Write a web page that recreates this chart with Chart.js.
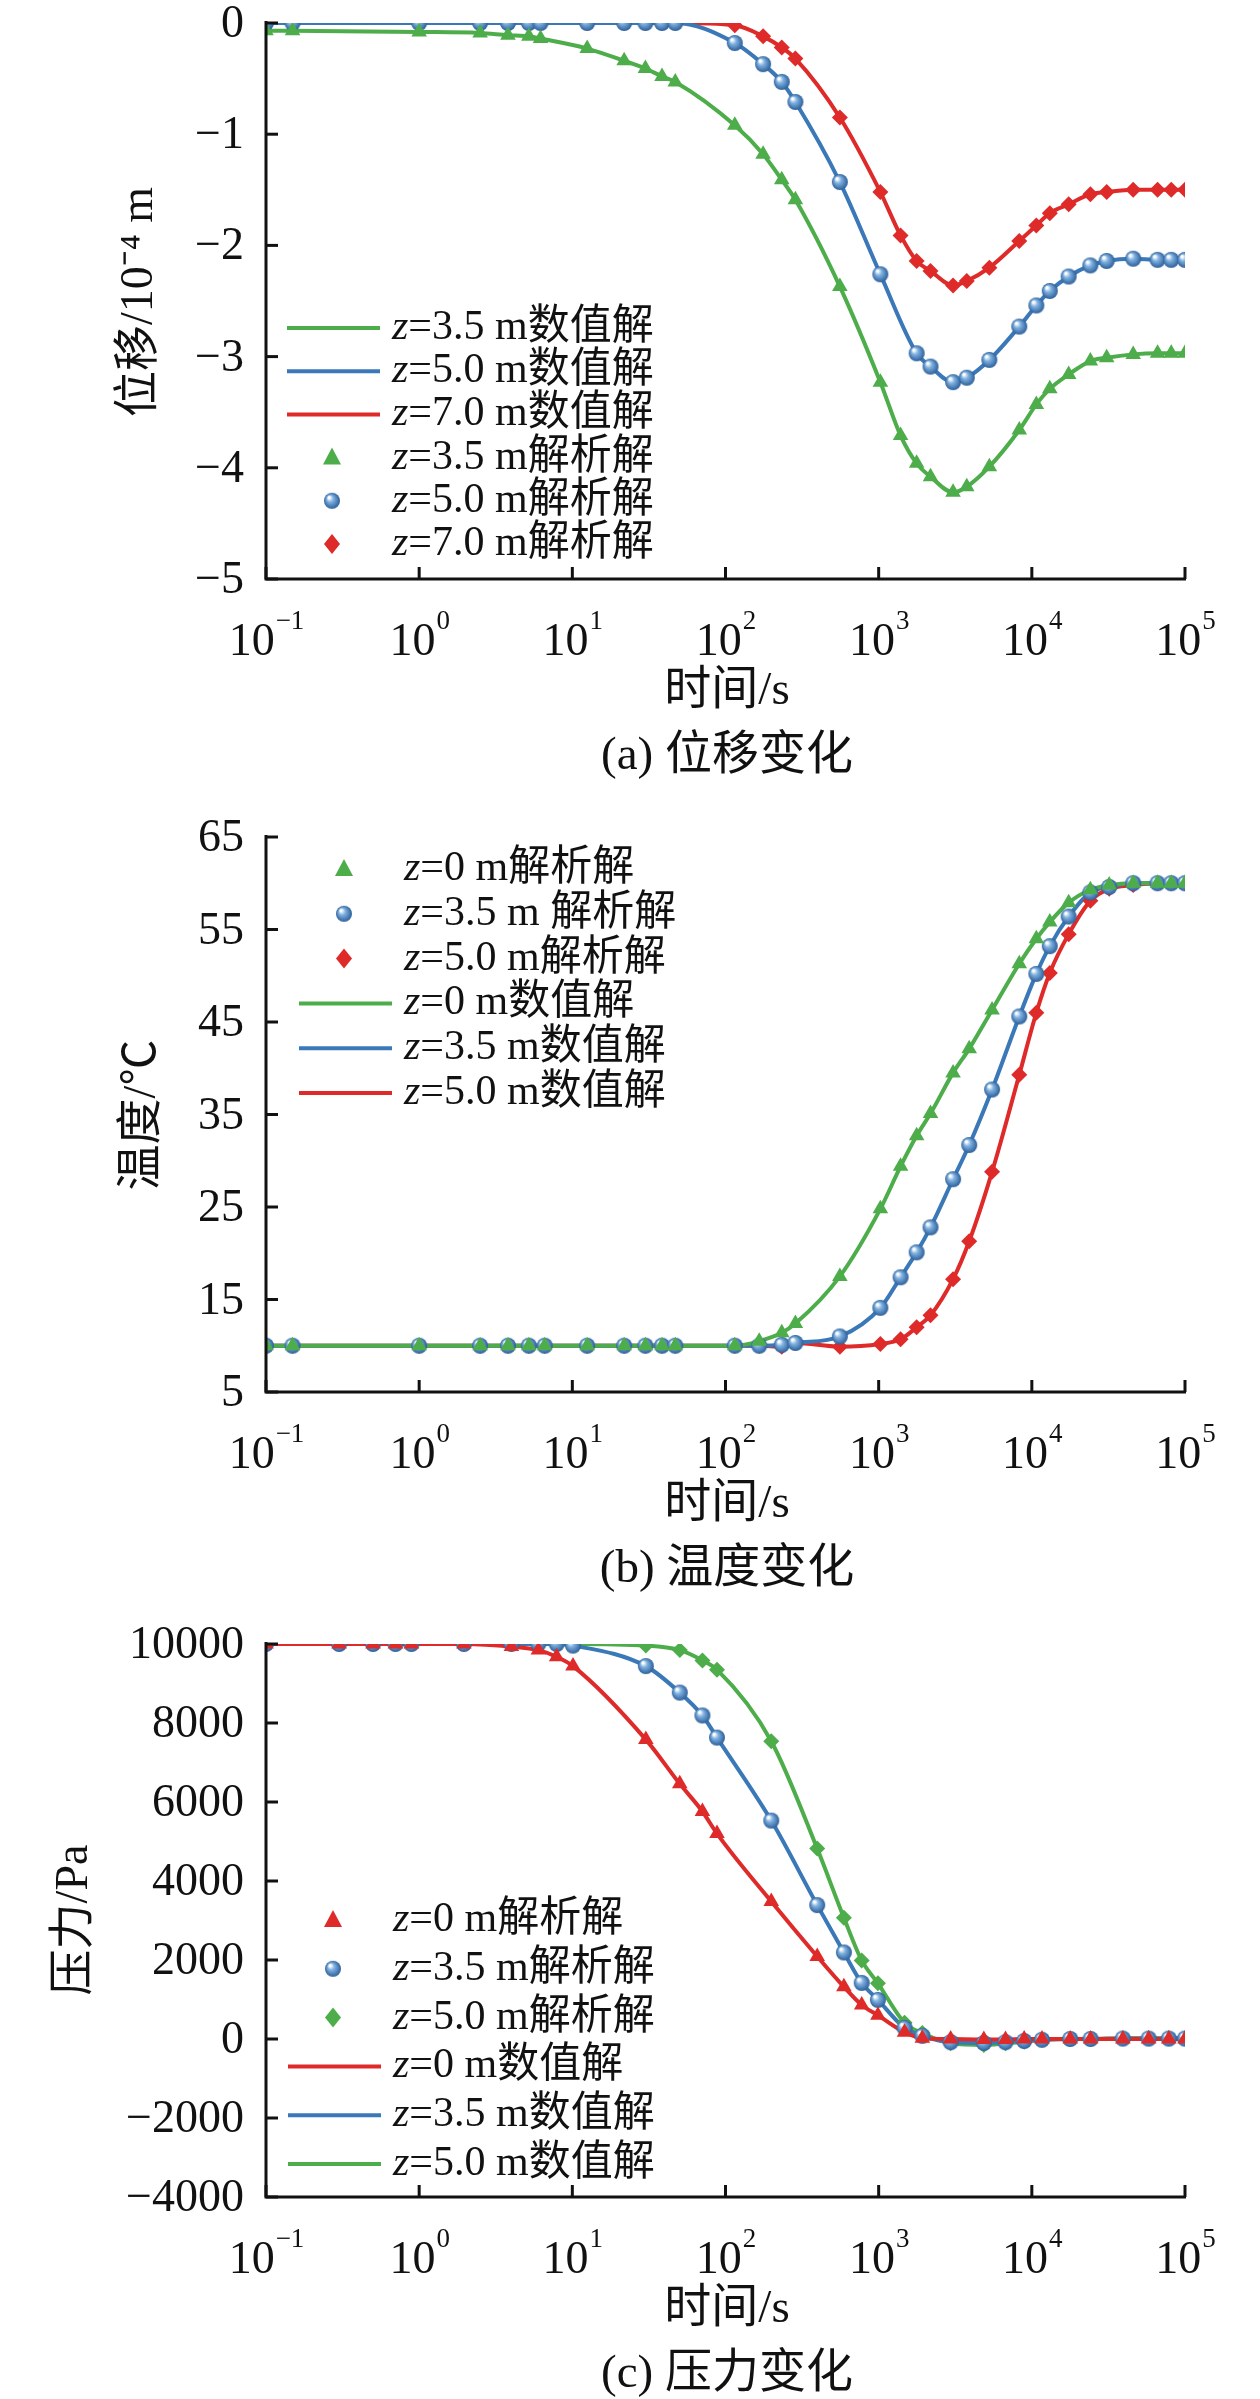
<!DOCTYPE html>
<html>
<head>
<meta charset="utf-8">
<script src="https://cdn.jsdelivr.net/npm/chart.js@4.4.0/dist/chart.umd.min.js"></script>
<style>
  body { margin: 0; background: #fff; }
  .panel { position: absolute; left: 0; }
</style>
</head>
<body>
<canvas id="chartA" class="panel" style="top:0" width="1260" height="800"></canvas>
<canvas id="chartB" class="panel" style="top:800px" width="1260" height="800"></canvas>
<canvas id="chartC" class="panel" style="top:1600px" width="1260" height="799"></canvas>
<script>
// --- Data (a) displacement, 1e-4 m ---
const timeA = [0.1,0.149,1.0,2.5,3.8,5.2,6.2,12.5,21.8,30,38.5,47,115,176,233,286,558,1026,1390,1770,2180,3060,3760,5280,8280,10700,13100,17400,24100,30800,45900,66200,81300,100000];
const timeA5 = [0.1,0.149,1.0,2.5,3.8,5.2,6.2,12.5,21.8,30,38.5,47,115,176,233,286,558,1026,1770,2180,3060,3760,5280,8280,10700,13100,17400,24100,30800,45900,66200,81300,100000];
const dispZ35 = [-0.07,-0.07,-0.08,-0.09,-0.11,-0.12,-0.14,-0.23,-0.34,-0.41,-0.48,-0.53,-0.92,-1.18,-1.41,-1.59,-2.37,-3.23,-3.71,-3.96,-4.08,-4.22,-4.17,-3.99,-3.66,-3.43,-3.29,-3.16,-3.04,-3.01,-2.98,-2.97,-2.97,-2.97];
const dispZ50 = [0,0,0,0,0,0,0,0,0,0,0,0,-0.18,-0.37,-0.53,-0.71,-1.43,-2.26,-2.97,-3.09,-3.23,-3.19,-3.03,-2.73,-2.54,-2.41,-2.28,-2.18,-2.14,-2.12,-2.13,-2.13,-2.13];
const dispZ70 = [0,0,0,0,0,0,0,0,0,0,0,0,-0.02,-0.12,-0.22,-0.32,-0.85,-1.52,-1.91,-2.14,-2.23,-2.36,-2.32,-2.2,-1.96,-1.82,-1.71,-1.63,-1.54,-1.52,-1.5,-1.5,-1.5,-1.5];
const dispTicks = [0,-1,-2,-3,-4,-5];

// --- Data (b) temperature, °C ---
const timeB = [0.1,0.149,1.0,2.5,3.8,5.2,6.6,12.5,21.8,30,38.5,47,115,166,233,286,558,1026,1390,1770,2180,3060,3900,5500,8280,10700,13100,17400,24100,32000,45900,66200,81300,100000];
const tempZ0 = [10,10,10,10,10,10,10,10,10,10,10,10,10,10.5,11.4,12.4,17.5,24.8,29.4,32.7,35.1,39.5,42.1,46.3,51.3,54.0,55.8,57.9,59.3,59.8,60,60,60,60];
const tempZ35 = [10,10,10,10,10,10,10,10,10,10,10,10,10,10,10.1,10.3,11.0,14.1,17.4,20.1,22.8,28.0,31.7,37.7,45.6,50.2,53.2,56.4,59.0,59.6,60,60,60,60];
const tempZ50 = [10,10,10,10,10,10,10,10,10,10,10,10,10,10,9.9,10.3,9.9,10.2,10.7,12.0,13.3,17.2,21.3,28.8,39.3,46.0,50.3,54.5,58.1,59.4,59.8,60,60,60];
const tempTicks = [5,15,25,35,45,55,65];

// --- Data (c) pressure, Pa ---
const timeC = [0.1,0.3,0.5,0.7,0.89,1.96,4.0,6.0,7.9,10.1,30.2,50.3,70.7,88,199,397,593,775,989,1476,1928,2950,4860,6730,8910,11650,17800,24200,39300,57900,78400,100000];
const presZ0 = [10000,10000,10000,10000,10000,10000,9935,9845,9675,9440,7580,6460,5760,5200,3480,2090,1320,860,600,170,20,0,-10,-10,0,0,0,0,0,0,0,0];
const presZ35 = [10000,10000,10000,10000,10000,10000,10000,10000,10000,9960,9440,8770,8190,7630,5530,3390,2190,1420,990,280,80,-80,-100,-80,-50,-20,0,0,10,10,10,10];
const presZ50 = [10000,10000,10000,10000,10000,10000,10000,10000,10000,10000,9960,9845,9585,9350,7540,4820,3070,1990,1410,410,150,-110,-150,-110,-70,-20,0,0,20,20,20,20];
const presTicks = [-4000,-2000,0,2000,4000,6000,8000,10000];

const timeDecades = [-1,0,1,2,3,4,5];

const GREEN = '#4dad4a';
const BLUE = '#3a78b8';
const RED = '#df2a2a';
const SERIF = '"Liberation Serif", "Noto Sans CJK SC", serif';

// shaded ball marker for the blue series
function makeBall(r) {
    const c = document.createElement('canvas');
    c.width = c.height = r * 2 + 2;
    const g = c.getContext('2d');
    const grad = g.createRadialGradient(r * 0.75, r * 0.7, 1, r + 1, r + 1, r);
    grad.addColorStop(0, '#ffffff');
    grad.addColorStop(0.35, '#7fb1e0');
    grad.addColorStop(1, '#2c5f9a');
    g.fillStyle = grad;
    g.beginPath();
    g.arc(r + 1, r + 1, r, 0, Math.PI * 2);
    g.fill();
    return c;
}
const ball = makeBall(8);

function pts(times, vals) {
    return times.map((t, i) => ({ x: t, y: vals[i] }));
}

function lineSet(times, vals, color, tension) {
    return { type: 'line', data: pts(times, vals), borderColor: color, borderWidth: 4,
             pointRadius: 0, tension: tension, cubicInterpolationMode: 'monotone', fill: false, order: 2 };
}

function markSet(times, vals, color, style) {
    const ds = { type: 'scatter', data: pts(times, vals), showLine: false, order: 1,
                 pointBackgroundColor: color, pointBorderWidth: 0, pointBorderColor: color,
                 pointStyle: style, pointRadius: style === 'rectRot' ? 8 : 9 };
    if (style === 'ball') { ds.pointStyle = ball; }
    return ds;
}

function drawMarker(ctx, kind, color, x, y) {
    ctx.save();
    ctx.fillStyle = color;
    if (kind === 'triangle') {
        ctx.beginPath();
        ctx.moveTo(x, y - 10); ctx.lineTo(x + 9, y + 7); ctx.lineTo(x - 9, y + 7);
        ctx.closePath(); ctx.fill();
    } else if (kind === 'rectRot') {
        ctx.beginPath();
        ctx.moveTo(x, y - 10); ctx.lineTo(x + 8, y); ctx.lineTo(x, y + 10); ctx.lineTo(x - 8, y);
        ctx.closePath(); ctx.fill();
    } else {
        ctx.drawImage(ball, x - 9, y - 9);
    }
    ctx.restore();
}

// axes, inward ticks, labels, legend and captions
const decorPlugin = {
    id: 'decor',
    afterDraw(chart, args, opts) {
        const ctx = chart.ctx;
        const a = chart.chartArea;
        const xs = chart.scales.x, ys = chart.scales.y;
        ctx.save();
        ctx.strokeStyle = '#111';
        ctx.fillStyle = '#111';
        ctx.lineWidth = 3;
        ctx.beginPath();
        ctx.moveTo(a.left, a.top - 2); ctx.lineTo(a.left, a.bottom); ctx.lineTo(a.right + 1, a.bottom);
        ctx.stroke();

        ctx.font = '46px ' + SERIF;
        ctx.textAlign = 'right';
        ctx.textBaseline = 'middle';
        opts.yTicks.forEach(v => {
            const py = ys.getPixelForValue(v);
            ctx.beginPath(); ctx.moveTo(a.left, py); ctx.lineTo(a.left + 12, py); ctx.stroke();
            ctx.fillText(String(v).replace('-', '\u2212'), a.left - 22, py + 2);
        });

        timeDecades.forEach(d => {
            const px = xs.getPixelForValue(Math.pow(10, d));
            ctx.beginPath(); ctx.moveTo(px, a.bottom); ctx.lineTo(px, a.bottom - 12); ctx.stroke();
            ctx.textAlign = 'left';
            ctx.textBaseline = 'alphabetic';
            const exp = String(d).replace('-', '\u2212');
            ctx.font = '27px ' + SERIF;
            const we = ctx.measureText(exp).width;
            ctx.font = '46px ' + SERIF;
            const wb = ctx.measureText('10').width;
            const x0 = px - (wb + we) / 2;
            ctx.fillText('10', x0, a.bottom + 76);
            ctx.font = '27px ' + SERIF;
            ctx.fillText(exp, x0 + wb + 1, a.bottom + 50);
        });

        ctx.font = '47px ' + SERIF;
        ctx.textAlign = 'center';
        ctx.textBaseline = 'middle';
        ctx.fillText('时间/s', 727, a.bottom + 113);
        ctx.fillText(opts.caption, 727, a.bottom + 178);

        ctx.save();
        ctx.translate(opts.yTitleX, opts.yTitleY);
        ctx.rotate(-Math.PI / 2);
        ctx.font = '46px ' + SERIF;
        ctx.fillText(opts.yTitle, 0, 0);
        ctx.restore();

        // legend
        opts.legend.forEach((e, i) => {
            const y = opts.legTop + i * opts.legStep;
            if (e.kind === 'line') {
                ctx.strokeStyle = e.color; ctx.lineWidth = 4;
                ctx.beginPath(); ctx.moveTo(opts.legX, y); ctx.lineTo(opts.legX + 93, y); ctx.stroke();
            } else {
                drawMarker(ctx, e.kind, e.color, opts.legX + 45, y);
            }
            ctx.fillStyle = '#111';
            ctx.textAlign = 'left';
            ctx.font = 'italic 42px ' + SERIF;
            ctx.fillText('z', opts.legX + 105, y);
            const wz = ctx.measureText('z').width;
            ctx.font = '42px ' + SERIF;
            ctx.fillText(e.text, opts.legX + 105 + wz, y);
        });
        ctx.restore();
    }
};

function makeChart(id, datasets, yMin, yMax, area, decor) {
    const el = document.getElementById(id);
    return new Chart(el.getContext('2d'), {
        data: { datasets: datasets },
        options: {
            responsive: false,
            animation: false,
            devicePixelRatio: 1,
            layout: { padding: { left: 0, right: 1260 - 1185, top: area.top, bottom: el.height - area.bottom - 100 } },
            scales: {
                x: { type: 'logarithmic', min: 0.1, max: 100000,
                     grid: { display: false }, border: { display: false }, ticks: { display: false },
                     afterFit: s => { s.height = 100; } },
                y: { type: 'linear', min: yMin, max: yMax,
                     grid: { display: false }, border: { display: false }, ticks: { display: false },
                     afterFit: s => { s.width = 266; } }
            },
            plugins: { legend: { display: false }, tooltip: { enabled: false }, decor: decor }
        },
        plugins: [decorPlugin]
    });
}

makeChart('chartA', [
    lineSet(timeA, dispZ35, GREEN, 0.35),
    lineSet(timeA5, dispZ50, BLUE, 0.35),
    lineSet(timeA, dispZ70, RED, 0.35),
    markSet(timeA, dispZ35, GREEN, 'triangle'),
    markSet(timeA5, dispZ50, BLUE, 'ball'),
    markSet(timeA, dispZ70, RED, 'rectRot')
], -5, 0, { top: 23, bottom: 579 }, {
    yTicks: dispTicks, caption: '(a) 位移变化', yTitle: '位移/10⁻⁴ m', yTitleX: 140, yTitleY: 302,
    legX: 287, legTop: 328, legStep: 43.2,
    legend: [
        { kind: 'line', color: GREEN, text: '=3.5 m数值解' },
        { kind: 'line', color: BLUE, text: '=5.0 m数值解' },
        { kind: 'line', color: RED, text: '=7.0 m数值解' },
        { kind: 'triangle', color: GREEN, text: '=3.5 m解析解' },
        { kind: 'ball', color: BLUE, text: '=5.0 m解析解' },
        { kind: 'rectRot', color: RED, text: '=7.0 m解析解' }
    ]
});

makeChart('chartB', [
    lineSet(timeB, tempZ0, GREEN, 0.3),
    lineSet(timeB, tempZ35, BLUE, 0.3),
    lineSet(timeB, tempZ50, RED, 0.3),
    markSet(timeB, tempZ0, GREEN, 'triangle'),
    markSet(timeB, tempZ35, BLUE, 'ball'),
    markSet(timeB, tempZ50, RED, 'rectRot')
], 5, 65, { top: 37, bottom: 592 }, {
    yTicks: tempTicks, caption: '(b) 温度变化', yTitle: '温度/℃', yTitleX: 143, yTitleY: 315,
    legX: 299, legTop: 69, legStep: 44.8,
    legend: [
        { kind: 'triangle', color: GREEN, text: '=0 m解析解' },
        { kind: 'ball', color: BLUE, text: '=3.5 m 解析解' },
        { kind: 'rectRot', color: RED, text: '=5.0 m解析解' },
        { kind: 'line', color: GREEN, text: '=0 m数值解' },
        { kind: 'line', color: BLUE, text: '=3.5 m数值解' },
        { kind: 'line', color: RED, text: '=5.0 m数值解' }
    ]
});

makeChart('chartC', [
    lineSet(timeC, presZ0, RED, 0.15),
    lineSet(timeC, presZ35, BLUE, 0.15),
    lineSet(timeC, presZ50, GREEN, 0.15),
    markSet(timeC, presZ0, RED, 'triangle'),
    markSet(timeC, presZ35, BLUE, 'ball'),
    markSet(timeC, presZ50, GREEN, 'rectRot')
], -4000, 10000, { top: 44, bottom: 597 }, {
    yTicks: presTicks, caption: '(c) 压力变化', yTitle: '压力/Pa', yTitleX: 75, yTitleY: 320,
    legX: 288, legTop: 320, legStep: 48.8,
    legend: [
        { kind: 'triangle', color: RED, text: '=0 m解析解' },
        { kind: 'ball', color: BLUE, text: '=3.5 m解析解' },
        { kind: 'rectRot', color: GREEN, text: '=5.0 m解析解' },
        { kind: 'line', color: RED, text: '=0 m数值解' },
        { kind: 'line', color: BLUE, text: '=3.5 m数值解' },
        { kind: 'line', color: GREEN, text: '=5.0 m数值解' }
    ]
});
</script>
</body>
</html>
